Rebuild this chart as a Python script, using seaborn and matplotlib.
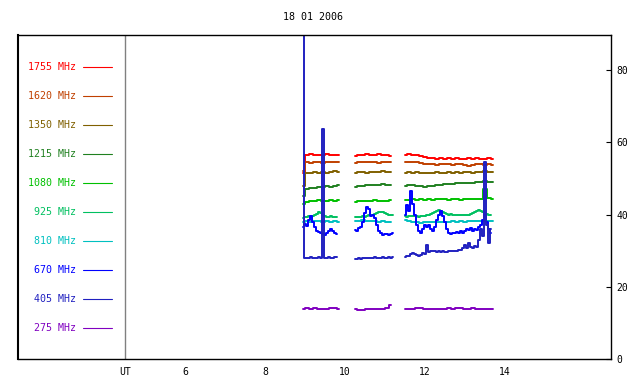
import numpy as np
import pandas as pd
import seaborn as sns
import matplotlib
matplotlib.use("Agg")
import matplotlib.pyplot as plt

# observation segments (UT hours), coarse grid for the flat channels
t_coarse = [
    [8.95, 9.05, 9.15, 9.25, 9.35, 9.45, 9.55, 9.65, 9.75, 9.85],
    [10.25, 10.35, 10.45, 10.55, 10.65, 10.75, 10.85, 10.95, 11.05, 11.15],
    [11.5, 11.6, 11.7, 11.8, 11.9, 12.0, 12.1, 12.2, 12.3, 12.4, 12.5, 12.6,
     12.7, 12.8, 12.9, 13.0, 13.1, 13.2, 13.3, 13.4, 13.5, 13.6, 13.7],
]
# finer grid for the bursty channels
t_fine = [
    [8.95, 9.0, 9.05, 9.1, 9.15, 9.2, 9.25, 9.3, 9.35, 9.4, 9.45, 9.5, 9.55,
     9.6, 9.65, 9.7, 9.75, 9.8],
    [10.25, 10.3, 10.35, 10.4, 10.45, 10.5, 10.55, 10.6, 10.65, 10.7, 10.75,
     10.8, 10.85, 10.9, 10.95, 11.0, 11.05, 11.1, 11.15, 11.2],
    [11.5, 11.55, 11.6, 11.65, 11.7, 11.75, 11.8, 11.85, 11.9, 11.95, 12.0,
     12.05, 12.1, 12.15, 12.2, 12.25, 12.3, 12.35, 12.4, 12.45, 12.5, 12.55,
     12.6, 12.65, 12.7, 12.75, 12.8, 12.85, 12.9, 12.95, 13.0, 13.05, 13.1,
     13.15, 13.2, 13.25, 13.3, 13.35, 13.4, 13.45, 13.5, 13.55, 13.6, 13.65],
]

f1755 = [
    [51.6, 56.5, 56.7, 56.4, 56.6, 56.5, 56.8, 56.5, 56.6, 56.4],
    [56.2, 56.6, 56.5, 56.8, 56.4, 56.6, 56.7, 56.5, 56.4, 56.3],
    [56.5, 56.7, 56.6, 56.5, 56.3, 55.8, 55.6, 55.7, 55.4, 55.6, 55.5, 55.7,
     55.4, 55.6, 55.3, 55.5, 55.6, 55.4, 55.7, 55.5, 55.3, 55.6, 55.4],
]
f1620 = [
    [52.0, 54.4, 54.3, 54.5, 54.4, 54.3, 54.6, 54.4, 54.5, 54.4],
    [54.3, 54.5, 54.4, 54.6, 54.4, 54.5, 54.3, 54.5, 54.4, 54.6],
    [54.5, 54.6, 54.4, 54.5, 54.2, 54.0, 53.9, 54.1, 53.8, 54.0, 53.9, 54.1,
     53.8, 54.0, 53.9, 53.7, 53.4, 53.8, 54.0, 53.9, 53.7, 54.0, 53.8],
]
f1350 = [
    [47.9, 51.5, 51.6, 51.7, 51.5, 51.8, 51.6, 51.9, 52.0, 51.8],
    [51.4, 51.7, 51.8, 51.6, 51.9, 51.7, 51.8, 52.0, 51.8, 51.9],
    [51.6, 51.8, 51.5, 51.7, 51.6, 51.4, 51.6, 51.5, 51.7, 51.5, 51.6, 51.7,
     51.5, 51.7, 51.6, 51.8, 51.7, 51.6, 51.8, 51.9, 52.1, 51.9, 51.8],
]
f1215 = [
    [45.0, 47.2, 47.4, 47.3, 47.6, 47.5, 47.8, 47.7, 47.9, 48.1],
    [47.5, 47.9, 48.0, 48.2, 48.1, 48.3, 48.2, 48.4, 48.3, 48.2],
    [48.0, 48.1, 48.2, 48.0, 47.8, 47.7, 47.9, 48.0, 48.2, 48.3, 48.4, 48.5,
     48.4, 48.6, 48.7, 48.6, 48.8, 48.7, 48.9, 49.0, 49.4, 49.1, 48.9],
]
f1080 = [
    [42.8, 43.6, 43.8, 43.7, 43.9, 43.8, 43.7, 43.9, 43.8, 43.9],
    [43.6, 43.8, 43.7, 43.8, 43.7, 43.9, 43.8, 43.7, 43.8, 43.9],
    [44.0, 44.1, 44.2, 44.1, 44.2, 44.0, 44.2, 44.1, 44.2, 44.3, 44.2, 44.1,
     44.3, 44.2, 44.1, 44.3, 44.2, 44.3, 44.4, 44.3, 47.0, 44.5, 44.4],
]
f925 = [
    [39.0, 39.3, 39.2, 39.5, 39.4, 39.6, 39.8, 40.2, 40.6, 40.3, 39.8, 39.5,
     39.4, 39.3, 39.5, 39.4, 39.2, 39.4],
    [39.2, 39.3, 39.4, 39.3, 39.5, 39.4, 39.6, 39.8, 40.0, 40.0, 40.2, 40.5,
     40.7, 40.8, 40.6, 40.4, 40.1, 40.0, 39.8, 39.8],
    [39.5, 39.4, 39.6, 39.5, 39.7, 39.5, 39.6, 39.4, 39.5, 39.7, 39.6, 39.8,
     40.0, 40.2, 40.5, 40.8, 41.0, 41.2, 41.0, 40.7, 40.4, 40.2, 40.0, 40.1,
     40.0, 39.9, 40.0, 39.8, 39.9, 39.8, 39.9, 40.0, 40.0, 40.2, 40.5, 40.8,
     41.0, 41.3, 41.0, 40.6, 40.3, 40.1, 40.0, 39.8],
]
f810 = [
    [38.0, 38.1, 38.0, 38.2, 38.1, 38.0, 38.1, 38.0, 38.1, 38.0],
    [38.3, 38.2, 38.4, 38.3, 38.1, 38.2, 38.0, 38.1, 38.0, 37.9],
    [38.6, 38.3, 38.0, 37.8, 37.7, 37.8, 37.9, 37.8, 37.9, 38.0, 37.9, 38.0,
     38.1, 38.0, 38.1, 38.0, 38.1, 38.2, 38.1, 38.2, 38.1, 38.2, 38.1],
]
f670 = [
    [36.5, 37.5, 36.8, 38.5, 39.5, 38.0, 36.5, 35.5, 35.2, 35.0, 34.5, 34.2,
     34.8, 35.5, 36.0, 35.3, 34.8, 34.5],
    [35.8, 35.5, 36.2, 36.5, 38.0, 40.5, 42.0, 41.5, 39.5, 40.0, 39.0, 37.0,
     35.5, 34.8, 34.3, 34.5, 34.6, 34.2, 34.5, 34.8],
    [40.0, 42.5, 41.0, 46.5, 43.0, 40.0, 37.0, 35.5, 35.0, 36.0, 37.0, 36.5,
     37.0, 36.0, 35.5, 36.5, 38.5, 40.0, 41.0, 39.5, 38.0, 36.0, 35.0, 34.5,
     35.0, 34.8, 35.2, 35.0, 35.3, 35.0, 35.5, 36.0, 35.8, 36.2, 35.5, 36.0,
     35.8, 36.5, 37.0, 38.5, 40.0, 38.0, 36.0, 35.0],
]
f405 = [
    [95.0, 28.0, 28.1, 28.0, 28.2, 28.0, 28.1, 28.0, 28.2, 28.0, 63.7, 28.0,
     28.1, 28.2, 28.0, 28.1, 28.2, 28.3],
    [27.8, 27.8, 27.9, 27.8, 27.9, 28.0, 28.0, 27.9, 28.1, 28.0, 28.2, 28.1,
     28.0, 28.1, 28.2, 28.0, 28.1, 28.2, 28.1, 28.2],
    [28.2, 28.4, 28.6, 29.0, 29.3, 29.0, 28.8, 28.5, 28.7, 29.3, 29.2, 31.5,
     29.6, 29.8, 30.0, 29.8, 29.7, 29.9, 29.6, 29.8, 29.5, 29.7, 29.8, 29.9,
     29.8, 30.0, 29.9, 30.1, 30.2, 30.6, 31.5, 30.8, 32.2, 31.0, 30.6, 31.2,
     31.0, 33.0, 36.0, 34.0, 54.5, 37.0, 32.0, 36.0],
]
f275 = [
    [13.9, 14.1, 13.9, 14.1, 13.9, 13.9, 13.9, 14.1, 14.1, 13.9],
    [13.9, 13.6, 13.7, 13.9, 13.9, 13.9, 13.9, 13.9, 14.1, 15.0],
    [13.9, 13.9, 13.9, 14.1, 14.1, 13.9, 13.9, 13.9, 13.9, 13.9, 13.9, 14.1,
     13.9, 14.1, 14.1, 13.9, 13.9, 14.1, 13.9, 13.9, 13.9, 13.9, 13.9],
]

labels = ["1755 MHz", "1620 MHz", "1350 MHz", "1215 MHz", "1080 MHz",
          "925 MHz", "810 MHz", "670 MHz", "405 MHz", "275 MHz"]
colors = ["#ff0000", "#c04000", "#806000", "#208020", "#00c000",
          "#00c060", "#00c0c0", "#0000ff", "#2020c0", "#8000c0"]
series = [(f1755, t_coarse), (f1620, t_coarse), (f1350, t_coarse),
          (f1215, t_coarse), (f1080, t_coarse), (f925, t_fine),
          (f810, t_coarse), (f670, t_fine), (f405, t_fine), (f275, t_coarse)]

rows = []
for lab, (vals, times) in zip(labels, series):
    for seg, (tt, vv) in enumerate(zip(times, vals)):
        for t, v in zip(tt, vv):
            rows.append((lab, seg, t, v))
df = pd.DataFrame(rows, columns=["freq", "seg", "ut", "flux"])

sns.set_theme(style="white")
plt.rcParams["font.family"] = ["DejaVu Sans Mono"]

fig = plt.figure(figsize=(6.4, 3.84), dpi=100)
ax = fig.add_axes([0.028, 0.065, 0.927, 0.844])

for lab, col in zip(labels, colors):
    sub = df[df.freq == lab]
    sns.lineplot(data=sub, x="ut", y="flux", units="seg", estimator=None,
                 color=col, lw=1.4, drawstyle="steps-mid", legend=False, ax=ax)

# UT divider
ax.axvline(4.5, color="#808080", lw=1)

# legend on the left
for i, (lab, col) in enumerate(zip(labels, colors)):
    y = 0.9003 - i * 0.0895
    ax.text(0.0978, y, lab, color=col, fontsize=7.2, ha="right", va="center",
            transform=ax.transAxes)
    ax.plot([0.1096, 0.1585], [y, y], color=col, lw=0.8, transform=ax.transAxes)

ax.set_xlim(1.825, 16.65)
ax.set_ylim(0, 89.7)
ax.set_xticks([4.5, 6, 8, 10, 12, 14])
ax.set_xticklabels(["UT", "6", "8", "10", "12", "14"])
ax.set_yticks([0, 20, 40, 60, 80])
ax.yaxis.tick_right()
ax.tick_params(axis="both", direction="in", length=3.5, width=0.8,
               labelsize=7, colors="black", pad=4)
ax.tick_params(axis="x", pad=6)
ax.set_xlabel("")
ax.set_ylabel("")
for sp in ax.spines.values():
    sp.set_visible(True)
    sp.set_color("black")
    sp.set_linewidth(1.0)
ax.spines["left"].set_linewidth(1.5)

fig.text(313 / 640, 1 - 17 / 384, "18 01 2006", ha="center", va="center",
         fontsize=7.2, color="black")

fig.savefig("out.png", dpi=100)
